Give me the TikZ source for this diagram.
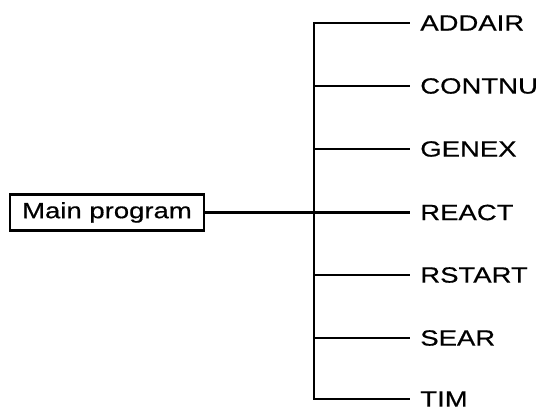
\documentclass[tikz,border=0pt]{standalone}
\usepackage{fontspec}
\setmainfont{Liberation Sans}[FakeStretch=1.25,FakeBold=0.6]
\begin{document}
\begin{tikzpicture}[x=1pt,y=-1pt,
  line width=2.6pt,
  lbl/.style={anchor=west,inner xsep=9pt,inner ysep=0pt,font=\fontsize{22}{22}\selectfont},
  mainbox/.style={draw,line width=2.4pt,minimum width=194pt,minimum height=36pt,inner sep=0pt,font=\fontsize{22}{22}\selectfont}]
  \useasboundingbox (0,0) rectangle (538,411);
  % caller on the left
  \node[mainbox] (main) at (107,212.5) {Main program};
  % trunk of the call tree
  \coordinate (top) at (314,23);
  \coordinate (bot) at (314,399);
  \coordinate (hub) at (314,212.5);
  \draw[line cap=rect] (top) -- (bot);
  \draw (main.east) -- (hub);
  % called subroutines
  \foreach \name/\yy in {ADDAIR/23,CONTNU/86,GENEX/149,REACT/212.5,RSTART/275,SEAR/338,TIM/399}{
    \node[lbl] (\name) at (410,\yy) {\name};
    \draw (314,\yy) -- (\name.west);
  }
\end{tikzpicture}
\end{document}
